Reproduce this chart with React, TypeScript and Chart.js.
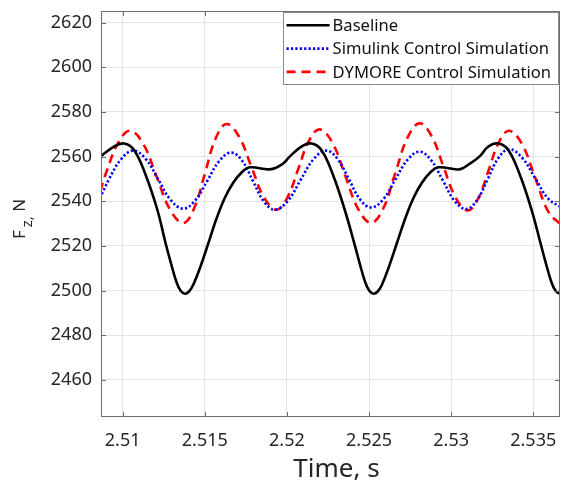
import React, { useEffect, useRef } from 'react';
import { Chart, registerables } from 'chart.js';

Chart.register(...registerables);

// ---- data ----
const seriesLabels = ['Baseline', 'Simulink Control Simulation', 'DYMORE Control Simulation'];

const baselineTime = [2.5086, 2.50947, 2.51008, 2.51069, 2.5114, 2.51211, 2.51261, 2.51295, 2.51329, 2.51354, 2.51379, 2.51404, 2.51429, 2.51471, 2.51522, 2.51572, 2.51623, 2.51673, 2.51724, 2.51774, 2.51896, 2.51973, 2.52017, 2.52088, 2.52149, 2.5221, 2.52281, 2.52352, 2.5241, 2.52444, 2.52478, 2.52503, 2.52528, 2.52553, 2.52578, 2.52619, 2.5267, 2.52721, 2.52772, 2.52822, 2.52873, 2.52923, 2.5305, 2.53111, 2.53172, 2.53227, 2.53287, 2.53348, 2.53419, 2.5349, 2.53544, 2.53578, 2.53612, 2.53637, 2.53662];
const baselineForce = [2559.8, 2564.5, 2565.9, 2563, 2551.8, 2536.2, 2521.3, 2512, 2503.5, 2499.8, 2498.6, 2499.6, 2502.5, 2510.2, 2521.3, 2532.4, 2541.7, 2548.3, 2552.9, 2555.2, 2554.3, 2556.7, 2560, 2564.5, 2565.9, 2563, 2551.8, 2536.2, 2521.3, 2512, 2503.5, 2499.8, 2498.6, 2499.6, 2502.5, 2510.2, 2521.3, 2532.4, 2541.7, 2548.3, 2552.9, 2555.2, 2554.3, 2556.7, 2560, 2564.5, 2565.9, 2563, 2551.8, 2536.2, 2521.3, 2512, 2503.5, 2499.8, 2498.6];

const simulinkTime = [2.50862, 2.50917, 2.50991, 2.51065, 2.51141, 2.51217, 2.51293, 2.51369, 2.51442, 2.51516, 2.51589, 2.51662, 2.51728, 2.51794, 2.5186, 2.51926, 2.52005, 2.52083, 2.52162, 2.5224, 2.52308, 2.52377, 2.52445, 2.52513, 2.52587, 2.5266, 2.52734, 2.52807, 2.52878, 2.52949, 2.5302, 2.53091, 2.53157, 2.53223, 2.53288, 2.53354, 2.53433, 2.53512, 2.53591, 2.5367];
const simulinkForce = [2541.4, 2549.9, 2558.9, 2562.7, 2558.9, 2549.7, 2540.5, 2536.7, 2540.4, 2549.3, 2558.1, 2561.8, 2558.1, 2549, 2539.9, 2536.2, 2540.1, 2549.5, 2558.8, 2562.7, 2559, 2550, 2540.9, 2537.2, 2540.9, 2549.7, 2558.5, 2562.2, 2558.4, 2549.4, 2540.3, 2536.5, 2540.4, 2549.9, 2559.4, 2563.3, 2559.4, 2550.3, 2541.2, 2537.3];

const dymoreTime = [2.50862, 2.50905, 2.50975, 2.51045, 2.51126, 2.51207, 2.51288, 2.51369, 2.51435, 2.51501, 2.51566, 2.51632, 2.51708, 2.51784, 2.5186, 2.51936, 2.52002, 2.52068, 2.52133, 2.52199, 2.52278, 2.52356, 2.52435, 2.52513, 2.52587, 2.5266, 2.52734, 2.52807, 2.52881, 2.52954, 2.53028, 2.53101, 2.53164, 2.53228, 2.53291, 2.53354, 2.53433, 2.53512, 2.53591, 2.5367];
const dymoreForce = [2544.4, 2554, 2566.5, 2571.6, 2565.6, 2551, 2536.3, 2530.3, 2536.8, 2552.5, 2568.1, 2574.6, 2569, 2555.4, 2541.8, 2536.2, 2541.5, 2554.2, 2566.9, 2572.2, 2566.1, 2551.3, 2536.4, 2530.3, 2536.8, 2552.6, 2568.4, 2574.9, 2569.2, 2555.4, 2541.6, 2535.9, 2541.1, 2553.8, 2566.4, 2571.6, 2565.4, 2550.5, 2535.5, 2529.3];

const xTicks = [2.51, 2.515, 2.52, 2.525, 2.53, 2.535];
const xTickLabels = ['2.51', '2.515', '2.52', '2.525', '2.53', '2.535'];
const yTicks = [2460, 2480, 2500, 2520, 2540, 2560, 2580, 2600, 2620];
const xRange = [2.50868, 2.53663];
const yRange = [2443.4, 2625.2];
const xTitle = 'Time, s';
const yTitleMain = 'F';
const yTitleSub = 'z,';
const yTitleUnit = ' N';

const FONT = '"Noto Sans", "Open Sans", sans-serif';
const TEXT = '#262626';
const FRAME = '#6e6e6e';

const toPoints = (ts: number[], vs: number[]) => ts.map((t, i) => ({ x: t, y: vs[i] }));

const framePlugin = {
  id: 'matlabFrame',
  afterDatasetsDraw(chart: any) {
    const { ctx, chartArea: a, scales } = chart;
    ctx.save();
    ctx.strokeStyle = FRAME;
    ctx.lineWidth = 1;
    ctx.setLineDash([]);
    ctx.strokeRect(a.left + 0.5, a.top + 0.5, a.right - a.left - 1, a.bottom - a.top - 1);
    ctx.beginPath();
    for (const t of scales.x.ticks) {
      const px = Math.round(scales.x.getPixelForValue(t.value)) + 0.5;
      ctx.moveTo(px, a.bottom);
      ctx.lineTo(px, a.bottom - 5);
      ctx.moveTo(px, a.top);
      ctx.lineTo(px, a.top + 5);
    }
    for (const t of scales.y.ticks) {
      const py = Math.round(scales.y.getPixelForValue(t.value)) + 0.5;
      ctx.moveTo(a.left, py);
      ctx.lineTo(a.left + 5, py);
      ctx.moveTo(a.right, py);
      ctx.lineTo(a.right - 5, py);
    }
    ctx.stroke();
    ctx.restore();
  },
};

const titlePlugin = {
  id: 'axisTitles',
  afterDraw(chart: any) {
    const { ctx, chartArea: a } = chart;
    ctx.save();
    // x title
    ctx.font = `26px ${FONT}`;
    ctx.fillStyle = TEXT;
    ctx.textAlign = 'center';
    ctx.textBaseline = 'alphabetic';
    ctx.fillText(xTitle, (a.left + a.right) / 2 + 6, 477);
    // y title (rotated, with subscript)
    const big = `17px ${FONT}`;
    const small = `15px ${FONT}`;
    ctx.font = big;
    const wF = ctx.measureText(yTitleMain).width;
    const wN = ctx.measureText(yTitleUnit).width;
    ctx.font = small;
    const wZ = ctx.measureText(yTitleSub).width;
    const gap = 3;
    const total = wF + gap + wZ + wN;
    ctx.translate(25, (a.top + a.bottom) / 2 + 5);
    ctx.rotate(-Math.PI / 2);
    ctx.textAlign = 'left';
    let x = -total / 2;
    ctx.font = big;
    ctx.fillText(yTitleMain, x, 0);
    x += wF + gap;
    ctx.font = small;
    ctx.fillText(yTitleSub, x, 7);
    x += wZ;
    ctx.font = big;
    ctx.fillText(yTitleUnit, x, 0);
    ctx.restore();
  },
};

const legendPlugin = {
  id: 'boxLegend',
  afterDraw(chart: any) {
    const { ctx, chartArea: a } = chart;
    const items = chart.data.datasets;
    ctx.save();
    ctx.font = `16.6px ${FONT}`;
    const textW = Math.max(...items.map((d: any) => ctx.measureText(d.label).width));
    const padL = 4, sample = 43, gap = 3, padR = 8, rowH = 23.3, padT = 13.3;
    const w = padL + sample + gap + textW + padR;
    const h = 73;
    const right = a.right - 1;
    const top = a.top + 1;
    const left = right - w;
    ctx.fillStyle = '#ffffff';
    ctx.fillRect(left, top, w, h);
    ctx.strokeStyle = '#8a8a8a';
    ctx.lineWidth = 1;
    ctx.strokeRect(Math.round(left) + 0.5, top + 0.5, Math.round(w) - 1, h - 1);
    items.forEach((d: any, i: number) => {
      const y = top + padT + i * rowH;
      ctx.strokeStyle = d.borderColor;
      ctx.lineWidth = d.borderWidth;
      ctx.setLineDash(d.borderDash || []);
      ctx.beginPath();
      ctx.moveTo(left + padL, y);
      ctx.lineTo(left + padL + sample, y);
      ctx.stroke();
      ctx.setLineDash([]);
      ctx.fillStyle = '#111111';
      ctx.textAlign = 'left';
      ctx.textBaseline = 'middle';
      ctx.fillText(d.label, left + padL + sample + gap, y + 1);
    });
    ctx.restore();
  },
};

export default function App() {
  const canvasRef = useRef<HTMLCanvasElement | null>(null);

  useEffect(() => {
    const canvas = canvasRef.current;
    if (!canvas) return;
    const chart = new Chart(canvas, {
      type: 'line',
      data: {
        datasets: [
          {
            label: seriesLabels[0],
            data: toPoints(baselineTime, baselineForce),
            borderColor: '#000000',
            borderWidth: 2.6,
            borderDash: [],
          },
          {
            label: seriesLabels[1],
            data: toPoints(simulinkTime, simulinkForce),
            borderColor: '#0000ff',
            borderWidth: 2.6,
            borderDash: [2.2, 2.2],
          },
          {
            label: seriesLabels[2],
            data: toPoints(dymoreTime, dymoreForce),
            borderColor: '#ff0000',
            borderWidth: 2.6,
            borderDash: [9, 6],
          },
        ].map((d) => ({
          ...d,
          pointRadius: 0,
          fill: false,
          cubicInterpolationMode: 'default' as const,
          tension: 0.4,
          clip: 0,
          borderCapStyle: 'butt' as const,
        })),
      },
      options: {
        responsive: false,
        animation: false,
        devicePixelRatio: 1,
        layout: { padding: { left: 0, right: 3, top: 11, bottom: 0 } },
        plugins: {
          legend: { display: false },
          tooltip: { enabled: false },
          title: { display: false },
        },
        scales: {
          x: {
            type: 'linear',
            min: xRange[0],
            max: xRange[1],
            afterBuildTicks: (scale: any) => {
              scale.ticks = xTicks.map((v) => ({ value: v }));
            },
            afterFit: (scale: any) => {
              scale.height = 65;
              scale.paddingLeft = 0;
              scale.paddingRight = 0;
            },
            ticks: {
              autoSkip: false,
              maxRotation: 0,
              padding: 13,
              color: TEXT,
              font: { family: FONT, size: 18 },
              callback: (_v: any, i: number) => xTickLabels[i],
            },
            grid: { color: '#e4e4e4', lineWidth: 1, drawTicks: false },
            border: { display: false },
          },
          y: {
            type: 'linear',
            min: yRange[0],
            max: yRange[1],
            afterBuildTicks: (scale: any) => {
              scale.ticks = yTicks.map((v) => ({ value: v }));
            },
            afterFit: (scale: any) => {
              scale.width = 101;
              scale.paddingTop = 0;
              scale.paddingBottom = 0;
            },
            ticks: {
              autoSkip: false,
              padding: 9,
              color: TEXT,
              font: { family: FONT, size: 18 },
              callback: (v: any) => String(v),
            },
            grid: { color: '#e4e4e4', lineWidth: 1, drawTicks: false },
            border: { display: false },
          },
        },
      },
      plugins: [framePlugin, titlePlugin, legendPlugin],
    });
    return () => chart.destroy();
  }, []);

  return (
    <div style={{ position: 'absolute', left: 0, top: 0, width: 563, height: 482, background: '#fff' }}>
      <canvas ref={canvasRef} width={563} height={482} style={{ width: 563, height: 482, display: 'block' }} />
    </div>
  );
}
